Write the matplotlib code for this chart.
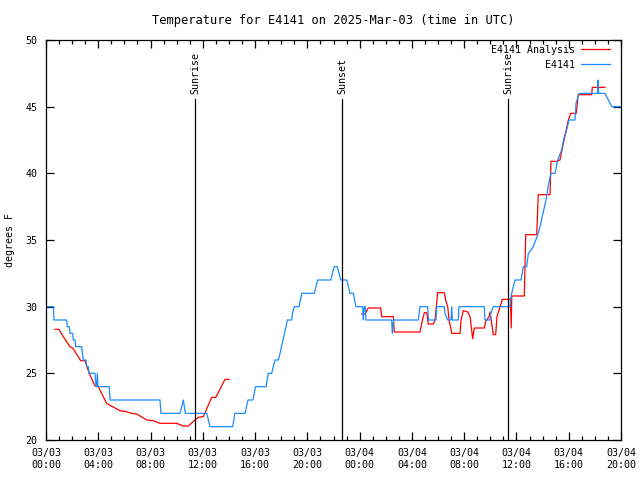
import matplotlib
matplotlib.use("Agg")
import matplotlib.pyplot as plt
import matplotlib.dates as mdates
import numpy as np
import pandas as pd

start = pd.Timestamp("2025-03-03 00:00")
end = pd.Timestamp("2025-03-04 20:00")

# hours since 03/03 00:00 UTC, temperature in deg F
obs_hours = [0.00, 0.56, 0.61, 1.58, 1.63, 1.78, 1.84, 2.04, 2.09, 2.22, 2.27, 2.73, 2.78, 2.85,
             3.06, 3.11, 3.24, 3.29, 3.75, 3.83, 3.88, 3.93, 3.98, 4.84, 4.90, 8.72, 8.80,
             10.25, 10.51, 10.66, 12.30, 12.55, 14.29, 14.46, 15.23, 15.46, 15.84, 16.03,
             16.84, 17.01, 17.27, 17.52, 17.78, 17.91, 18.02, 18.14, 18.25, 18.37, 18.46,
             18.80, 18.86, 19.00, 19.36, 19.47, 19.57, 20.53, 20.66, 20.79, 21.79, 21.92,
             22.06, 22.29, 22.42, 22.55, 23.01, 23.15, 23.26, 23.52, 23.61, 23.72, 24.23,
             24.28, 24.36, 24.43, 24.49, 26.45, 26.50, 26.59, 28.49, 28.62, 29.21, 29.27,
             29.84, 29.90, 30.48, 30.53, 30.74, 30.99, 31.05, 31.09, 31.55, 31.60, 33.54,
             33.59, 33.98, 34.03, 34.23, 35.51, 35.58, 35.76, 35.89, 36.35, 36.52, 36.78,
             36.91, 37.29, 37.63, 37.80, 38.03, 38.26, 38.44, 38.64, 38.95, 39.16, 39.46,
             39.60, 39.84, 40.02, 40.48, 40.56, 40.79, 42.22, 42.24, 42.29, 42.78, 43.29,
             44.00]
obs_temp = [30.0, 30.0, 29.0, 29.0, 28.5, 28.5, 28.0, 28.0, 27.5, 27.5, 27.0, 27.0, 26.5, 26.0,
            26.0, 25.5, 25.5, 25.0, 25.0, 24.0, 24.0, 25.0, 24.0, 24.0, 23.0, 23.0, 22.0,
            22.0, 23.0, 22.0, 22.0, 21.0, 21.0, 22.0, 22.0, 23.0, 23.0, 24.0,
            24.0, 25.0, 25.0, 26.0, 26.0, 26.5, 27.0, 27.5, 28.0, 28.5, 29.0,
            29.0, 29.5, 30.0, 30.0, 30.5, 31.0, 31.0, 31.5, 32.0, 32.0, 32.5,
            33.0, 33.0, 32.5, 32.0, 32.0, 31.5, 31.0, 31.0, 30.5, 30.0, 30.0,
            29.0, 30.0, 30.0, 29.0, 29.0, 28.0, 29.0, 29.0, 30.0, 30.0, 29.0,
            29.0, 30.0, 30.0, 29.5, 29.0, 29.0, 30.0, 29.0, 29.0, 30.0, 30.0,
            29.0, 29.0, 29.5, 30.0, 30.0, 30.75, 31.5, 32.0, 32.0, 33.0, 33.0,
            34.0, 34.5, 35.4, 36.0, 37.0, 38.0, 39.1, 40.0, 40.0, 41.0, 41.75,
            42.5, 43.25, 44.0, 44.0, 45.25, 46.0, 46.0, 47.0, 46.0, 46.0, 45.0,
            45.0]

# analysis series, NaN marks the gap in the data
ana_hours = [0.69, 0.99, 1.32, 1.84, 2.04, 2.66, 2.98, 3.31, 3.75, 4.00, 4.64, 4.90, 5.66,
             6.05, 6.56, 6.94, 7.71, 8.21, 8.72, 10.00, 10.51, 10.89, 11.40, 11.65, 12.04,
             12.68, 12.99, 13.70, 14.00, 19.0,
             24.16, 24.41, 24.66, 25.61, 25.69, 26.58, 26.65, 28.62, 28.75, 28.95, 29.13,
             29.25, 29.64, 29.77, 29.97, 30.48, 30.59, 30.74, 30.84, 31.05, 31.68, 31.76,
             31.93, 32.27, 32.45, 32.65, 32.77, 33.54, 33.65, 33.90, 33.98, 34.23, 34.41,
             34.51, 34.92, 35.54, 35.60, 35.64, 36.60, 36.71, 37.55, 37.67, 38.57, 38.64,
             39.08, 39.33, 39.59, 39.97, 40.15, 40.58, 40.73, 41.76, 41.80, 42.78]
ana_temp = [28.3, 28.3, 27.75, 27.0, 26.9, 25.95, 25.95, 25.0, 24.05, 24.0, 22.75, 22.6, 22.2,
            22.15, 22.0, 21.95, 21.5, 21.45, 21.25, 21.25, 21.05, 21.05, 21.5, 21.7, 21.75,
            23.2, 23.2, 24.55, 24.55, np.nan,
            29.45, 29.45, 29.9, 29.9, 29.25, 29.25, 28.1, 28.1, 28.75, 29.55, 29.55,
            28.7, 28.7, 29.0, 31.05, 31.05, 30.45, 30.0, 29.0, 28.0, 28.0, 29.0,
            29.7, 29.6, 29.25, 27.6, 28.4, 28.4, 28.9, 29.25, 29.6, 27.9, 27.9,
            29.25, 30.55, 30.55, 28.4, 30.8, 30.8, 35.4, 35.4, 38.4, 38.4, 40.9,
            40.9, 41.0, 42.25, 44.0, 44.5, 44.5, 45.9, 45.9, 46.45, 46.45]

sun_events = ["Sunrise", "Sunset", "Sunrise"]
sun_hours = [11.40, 22.65, 35.35]

def to_time(hours):
    return start + pd.to_timedelta(np.asarray(hours), unit="h")

plt.rcParams["font.family"] = "DejaVu Sans Mono"
plt.rcParams["font.size"] = 7.2

fig = plt.figure(figsize=(6.4, 4.8), dpi=100)
ax = fig.add_axes([46 / 640, 40 / 480, 575 / 640, 400 / 480])

ax.plot(to_time(ana_hours), ana_temp, color="#ff0000", lw=0.9, label="E4141 Analysis")
ax.plot(to_time(obs_hours), obs_temp, color="#1a8cff", lw=0.9, label="E4141")

for name, h in zip(sun_events, sun_hours):
    t = to_time([h])[0]
    ax.plot([t, t], [20, 45.6], color="black", lw=0.9)
    ax.text(t, 45.95, name, rotation=90, ha="center", va="bottom")

ax.set_xlim(start, end)
ax.set_ylim(20, 50)
ax.set_yticks(np.arange(20, 51, 5))
ax.xaxis.set_major_locator(mdates.HourLocator(byhour=range(0, 24, 4)))
ax.xaxis.set_minor_locator(mdates.HourLocator())
ax.xaxis.set_major_formatter(mdates.DateFormatter("%m/%d\n%H:%M"))
ax.tick_params(which="both", direction="in", top=True, right=True, width=0.9)
ax.tick_params(which="major", length=6, pad=6)
ax.tick_params(which="minor", length=3)
for s in ax.spines.values():
    s.set_linewidth(0.9)

fig.text(10 / 640, 0.5, "degrees F", rotation=90, ha="center", va="center")
ax.set_title("Temperature for E4141 on 2025-Mar-03 (time in UTC)", pad=11.8)
ax.legend(loc="upper right", bbox_to_anchor=(0.988, 0.9975), frameon=False,
          markerfirst=False, handlelength=2.9, borderaxespad=0, labelspacing=0.5,
          handletextpad=0.6)

fig.savefig("out.png", dpi=100)
